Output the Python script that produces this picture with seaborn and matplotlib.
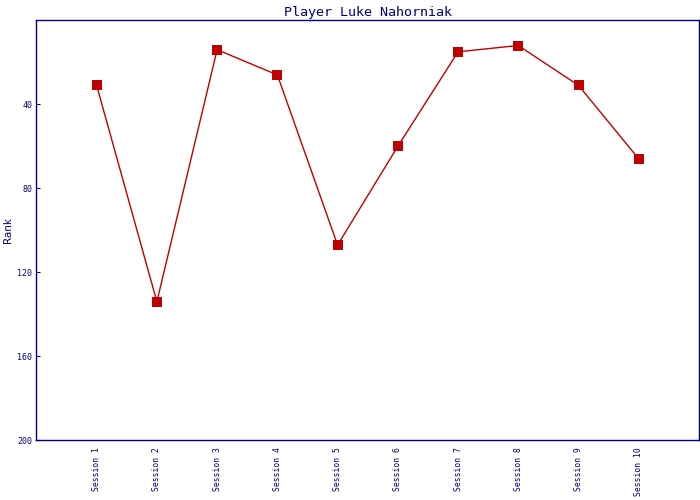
import matplotlib
matplotlib.use("Agg")
import matplotlib.pyplot as plt
import seaborn as sns
import pandas as pd

# data
sessions = [f"Session {i}" for i in range(1, 11)]
ranks = [31, 134, 14, 26, 107, 60, 15, 12, 31, 66]
y_ticks = [40, 80, 120, 160, 200]

navy = "#000080"
red = "#C00000"

sns.set_style("white")
plt.rcParams["font.family"] = ["DejaVu Sans Mono"]

df = pd.DataFrame({"session": sessions, "rank": ranks})
df["pos"] = range(len(df))

fig = plt.figure(figsize=(7, 5), dpi=100)
ax = fig.add_axes([0.052, 0.1194, 0.9466, 0.84])

sns.lineplot(data=df, x="pos", y="rank", ax=ax, color=red, linewidth=1.0,
             marker="s", markersize=7, markeredgewidth=0, markerfacecolor=red)

ax.set_xlim(-1, len(sessions))
ax.set_ylim(200, 0)
ax.set_xticks(df["pos"])
ax.set_xticklabels(sessions, rotation=90, fontsize=5.8, color=navy, va="top")
ax.set_yticks(y_ticks)
ax.set_yticklabels([str(t) for t in y_ticks], fontsize=6, color=navy)
ax.tick_params(axis="x", length=0, pad=5)
ax.tick_params(axis="y", direction="in", length=3, width=0.8, color=navy, pad=3, left=True)

ax.set_xlabel("")
ax.set_ylabel("Rank", fontsize=7.5, color=navy, family="DejaVu Sans", labelpad=3)
ax.set_title("Player Luke Nahorniak", fontsize=9.6, color=navy, pad=3)

for sp in ax.spines.values():
    sp.set_color(navy)
    sp.set_linewidth(1.0)

fig.savefig("out.png", dpi=100)
